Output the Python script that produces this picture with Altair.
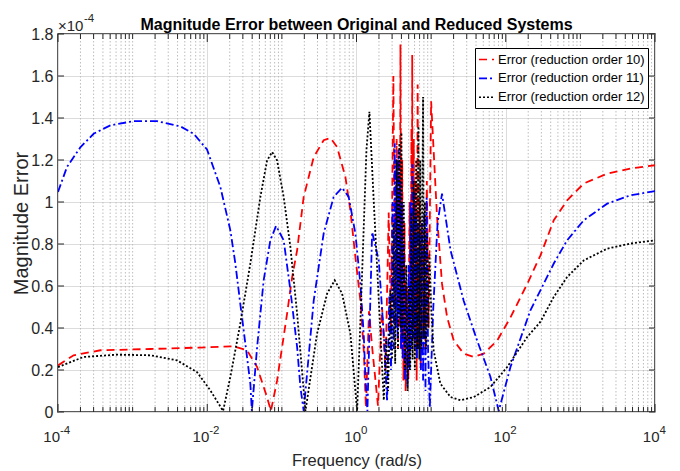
import altair as alt
import pandas as pd

# ---------------- data (magnitude error in units of 1e-4) ----------------
series_names = [
    "Error (reduction order 10)",
    "Error (reduction order 11)",
    "Error (reduction order 12)",
]

red_freq = [1e-4, 1.62e-4, 3.69e-4, 1.73e-3, 8.09e-3, 0.0226, 0.0341, 0.0466, 0.057, 0.0634,
            0.0713, 0.0863, 0.1175, 0.137, 0.160, 0.196, 0.267, 0.363, 0.447, 0.549,
            0.710, 0.828, 0.966, 1.127, 1.25, 1.337, 1.47, 1.63, 1.94,
            2.2, 2.45, 2.7, 2.9, 3.12, 3.28, 3.45, 3.6, 3.72, 3.8,
            3.88, 3.98, 4.1, 4.25, 4.4, 4.55, 4.75, 4.95, 5.15, 5.3,
            5.45, 5.52, 5.58, 5.7, 5.85, 6.0, 6.2, 6.4, 6.6, 6.8,
            7.0, 7.25, 7.5, 7.75, 8.05, 8.35, 8.75, 9.25, 10.0,
            10.8, 12.0, 14.0, 16.4, 20.1, 27.3, 37.2, 50.7, 76.7, 115.6,
            194, 292, 440, 665, 1111, 2287, 4696, 10000]
red_err = [0.222, 0.27, 0.294, 0.30, 0.307, 0.313, 0.294, 0.214, 0.119, 0.07,
           0.005, 0.15, 0.469, 0.64, 0.77, 1.024, 1.214, 1.294, 1.305, 1.262,
           1.119, 0.96, 0.738, 0.532, 0.294, 0.02, 0.48, 0.3, 0.03,
           0.5, 0.2, 0.95, 0.4, 1.6, 0.5, 1.3, 0.3, 1.2, 0.4,
           1.75, 0.3, 1.2, 0.15, 0.9, 0.1, 0.6, 0.15, 1.0, 0.4,
           1.35, 0.6, 1.70, 0.4, 1.3, 0.3, 1.1, 0.15, 1.56, 0.3,
           1.0, 0.2, 0.9, 0.35, 0.8, 0.3, 1.1, 0.4, 1.48,
           1.246, 0.93, 0.61, 0.45, 0.34, 0.278, 0.262, 0.278, 0.34, 0.45,
           0.61, 0.746, 0.913, 1.008, 1.088, 1.135, 1.159, 1.175]

blue_freq = [1e-4, 1.32e-4, 1.99e-4, 3.0e-4, 5.02e-4, 1.03e-3, 2.12e-3, 4.36e-3, 6.57e-3, 9.93e-3,
             0.015, 0.0204, 0.0238, 0.0277, 0.0324, 0.0378, 0.0396, 0.0466, 0.057, 0.0701,
             0.0836, 0.1057, 0.130, 0.160, 0.177, 0.196, 0.267, 0.363, 0.494, 0.641,
             0.786, 0.966, 1.127, 1.25, 1.315, 1.40, 1.62, 1.99, 2.32, 2.57,
             2.75, 2.9, 3.05, 3.15, 3.25, 3.35, 3.45, 3.55, 3.65, 3.75,
             3.85, 3.95, 4.05, 4.15, 4.3, 4.45, 4.6, 4.8, 5.0, 5.15,
             5.3, 5.45, 5.6, 5.75, 5.9, 6.05, 6.25, 6.45, 6.65, 6.85,
             7.05, 7.3, 7.55, 7.8, 8.1, 8.4, 8.7, 9.1, 9.6,
             10.7, 12.2, 14.0, 18.2, 27.3, 41.4, 62.4, 80.5, 115.6, 214,
             440, 665, 1111, 2287, 4696, 10000]
blue_err = [1.048, 1.167, 1.26, 1.325, 1.365, 1.385, 1.385, 1.36, 1.325, 1.25,
            1.071, 0.865, 0.707, 0.516, 0.326, 0.135, 0.005, 0.31, 0.627, 0.818,
            0.886, 0.818, 0.58, 0.31, 0.12, 0.005, 0.53, 0.85, 1.024, 1.068,
            1.024, 0.85, 0.61, 0.37, 0.17, 0.005, 0.857, 0.72, 0.37, 0.05,
            0.55, 0.2, 1.0, 0.3, 1.28, 0.4, 1.2, 0.35, 1.25, 0.45,
            1.1, 0.3, 1.0, 0.25, 0.8, 0.15, 0.6, 0.12, 0.7, 0.2,
            1.0, 0.3, 1.18, 0.35, 1.05, 0.3, 0.95, 0.25, 0.9, 0.3,
            0.85, 0.2, 0.9, 0.15, 0.95, 0.1, 1.02, 0.3, 0.02,
            0.5, 0.9, 1.04, 0.77, 0.53, 0.34, 0.167, 0.005, 0.214, 0.484,
            0.707, 0.818, 0.913, 0.992, 1.032, 1.052]

black_freq = [1e-4, 2.2e-4, 6.18e-4, 1.73e-3, 3.93e-3, 7.3e-3, 0.011, 0.0163, 0.0204, 0.0277,
              0.0378, 0.0515, 0.0634, 0.074, 0.0863, 0.1057, 0.130, 0.160, 0.207, 0.296,
              0.404, 0.511, 0.641, 0.828, 1.02, 1.2, 1.36, 1.49, 1.70, 1.99,
              2.32,
              2.5, 2.65, 2.85, 3.0, 3.15, 3.3, 3.45, 3.6, 3.75, 3.88,
              4.0, 4.12, 4.3, 4.45, 4.65, 4.85, 5.05, 5.25, 5.45, 5.65,
              5.85, 6.05, 6.3, 6.5, 6.76, 6.95, 7.15, 7.4, 7.8, 8.0,
              8.25, 8.55, 8.85, 9.15, 9.5, 10.0,
              10.8, 13.3, 18.2, 24.7, 37.2, 62.4, 104.5, 194, 292, 440,
              665, 1111, 2287, 4696, 10000]
black_err = [0.214, 0.262, 0.273, 0.27, 0.246, 0.19, 0.103, 0.005, 0.167, 0.42,
             0.707, 1.024, 1.198, 1.238, 1.198, 1.024, 0.786, 0.469, 0.005, 0.373,
             0.564, 0.627, 0.564, 0.373, 0.005, 0.7, 1.25, 1.43, 1.008, 0.532,
             0.056,
             0.35, 0.1, 0.58, 0.25, 0.9, 0.23, 1.2, 0.3, 1.28, 0.4,
             1.33, 0.35, 1.0, 0.2, 0.7, 0.1, 0.6, 0.2, 0.95, 0.25,
             1.1, 0.2, 1.2, 0.3, 1.36, 0.25, 1.2, 0.3, 1.5, 0.35,
             1.0, 0.3, 0.85, 0.4, 0.75, 0.5,
             0.294, 0.135, 0.071, 0.056, 0.071, 0.119, 0.214, 0.357, 0.43, 0.548,
             0.643, 0.722, 0.778, 0.802, 0.818]

x_major = [1e-4, 1e-2, 1.0, 1e2, 1e4]
x_exponents = ["-4", "-2", "0", "2", "4"]
y_ticks = [0, 0.2, 0.4, 0.6, 0.8, 1.0, 1.2, 1.4, 1.6, 1.8]

series_colors = ["#FF0000", "#0000FF", "#000000"]
series_dashes = [[8, 5], [8, 3, 2, 3], [2, 2]]

# ---------------- tables ----------------
rows = []
for name, fs, vs in zip(series_names, [red_freq, blue_freq, black_freq], [red_err, blue_err, black_err]):
    assert len(fs) == len(vs), name
    rows += [{"freq": f, "err": v, "series": name} for f, v in zip(fs, vs)]
df = pd.DataFrame(rows)

x_minor = []
for k in range(-4, 4):
    for m in range(1, 10):
        if m == 1 and k % 2 == 0:
            continue
        x_minor.append(m * 10.0 ** k)
minor_df = pd.DataFrame({"freq": x_minor})
major_df = pd.DataFrame({"freq": x_major})
ytick_df = pd.DataFrame({"err": y_ticks})
lab_neg = pd.DataFrame({"freq": x_major[:2], "exp": x_exponents[:2]})
lab_pos = pd.DataFrame({"freq": x_major[2:], "exp": x_exponents[2:]})

# ---------------- styling ----------------
W, H = 597, 378
FN = "Liberation Sans, Arial, sans-serif"
TXT = "#262626"
GRID = "#dcdcdc"

x_scale = alt.Scale(type="log", domain=[1e-4, 1e4], nice=False)
y_scale = alt.Scale(domain=[0, 1.8], nice=False, zero=False)

x_axis = alt.Axis(values=x_major, grid=True, gridColor=GRID, gridWidth=1,
                  labels=False, ticks=False, domain=False,
                  title="Frequency (rad/s)", titleFont=FN, titleFontSize=16.5,
                  titleFontWeight="normal", titleColor=TXT,
                  titleX=W / 2, titleY=53, titleBaseline="alphabetic")
y_axis = alt.Axis(values=y_ticks, grid=True, gridColor=GRID, gridWidth=1,
                  labelFont=FN, labelFontSize=16, labelColor=TXT, labelPadding=5,
                  ticks=False, tickSize=0, domain=False,
                  labelExpr="format(datum.value, '.1~f')",
                  title="Magnitude Error", titleFont=FN, titleFontSize=20,
                  titleFontWeight="normal", titleColor=TXT,
                  titleX=-31, titleY=H / 2, titleAngle=-90, titleBaseline="alphabetic",
                  titleAlign="center")

X = alt.X("freq:Q", scale=x_scale, axis=x_axis)
Y = alt.Y("err:Q", scale=y_scale, axis=y_axis)

legend = alt.Legend(title=None, orient="none", legendX=417, legendY=14,
                    symbolType="stroke", symbolSize=225, symbolStrokeWidth=1.6,
                    labelFont=FN, labelFontSize=13, labelColor="black",
                    strokeColor="black", fillColor="white", padding=3,
                    rowPadding=2.9, labelOffset=3, labelLimit=400)

minor_grid = alt.Chart(minor_df).mark_rule(color="#bdbdbd", strokeWidth=1, strokeDash=[1.5, 2]).encode(
    x=X, y=alt.value(0), y2=alt.value(H))

lines = alt.Chart(df).mark_line(strokeWidth=1.8, clip=True).encode(
    x=X, y=Y,
    color=alt.Color("series:N", scale=alt.Scale(domain=series_names, range=series_colors), legend=legend),
    strokeDash=alt.StrokeDash("series:N", scale=alt.Scale(domain=series_names, range=series_dashes), legend=legend),
)

tick_style = dict(color=TXT, strokeWidth=1)
maj_bot = alt.Chart(major_df).mark_rule(**tick_style).encode(x=X, y=alt.value(H), y2=alt.value(H - 8))
maj_top = alt.Chart(major_df).mark_rule(**tick_style).encode(x=X, y=alt.value(0), y2=alt.value(8))
min_bot = alt.Chart(minor_df).mark_rule(**tick_style).encode(x=X, y=alt.value(H), y2=alt.value(H - 5))
min_top = alt.Chart(minor_df).mark_rule(**tick_style).encode(x=X, y=alt.value(0), y2=alt.value(5))
y_left = alt.Chart(ytick_df).mark_rule(**tick_style).encode(y=Y, x=alt.value(0), x2=alt.value(6))
y_right = alt.Chart(ytick_df).mark_rule(**tick_style).encode(y=Y, x=alt.value(W), x2=alt.value(W - 6))

def xlabels(d, off):
    base = alt.Chart(d).mark_text(align="right", baseline="alphabetic", dx=off, font=FN,
                                  fontSize=15, color=TXT).encode(
        x=X, y=alt.value(H + 30), text=alt.value("10"))
    sup = alt.Chart(d).mark_text(align="left", baseline="alphabetic", dx=off, font=FN,
                                 fontSize=11.5, color=TXT).encode(
        x=X, y=alt.value(H + 22), text="exp:N")
    return base + sup

title_df = pd.DataFrame({"t": ["Magnitude Error between Original and Reduced Systems"]})
title = alt.Chart(title_df).mark_text(align="center", baseline="alphabetic", font=FN, fontSize=16,
                                      fontWeight="bold", color="black").encode(
    x=alt.value(W / 2), y=alt.value(-4), text="t:N")

exp_df = pd.DataFrame({"a": ["\u00d710"], "b": ["-4"]})
exp_base = alt.Chart(exp_df).mark_text(align="left", baseline="alphabetic", font=FN, fontSize=15,
                                       color=TXT).encode(x=alt.value(0), y=alt.value(-3.5), text="a:N")
exp_sup = alt.Chart(exp_df).mark_text(align="left", baseline="alphabetic", font=FN, fontSize=11.5,
                                      color=TXT).encode(x=alt.value(26), y=alt.value(-12), text="b:N")

chart = alt.layer(
    minor_grid, lines, maj_bot, maj_top, min_bot, min_top, y_left, y_right,
    xlabels(lab_neg, 2), xlabels(lab_pos, 4.5), title, exp_base, exp_sup,
).properties(
    width=W, height=H,
    autosize=alt.AutoSizeParams(type="none"),
    padding={"left": 58, "top": 34, "right": 25, "bottom": 59},
    background="white",
).configure_view(stroke="#262626", strokeWidth=1.5)

chart.save("out.html", embed_options={"renderer": "svg", "actions": False})
